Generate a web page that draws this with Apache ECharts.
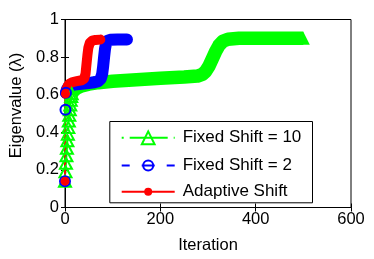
<!DOCTYPE html>
<html>
<head>
<meta charset="utf-8">
<script src="https://cdn.jsdelivr.net/npm/echarts@6/dist/echarts.min.js"></script>
<style>
html,body{margin:0;padding:0;background:#fff;}
#c{width:374px;height:259px;}
</style>
</head>
<body>
<div id="c"></div>
<script>
// ---- data ----
var xTicks = [0, 200, 400, 600];
var yTicks = [0, 0.2, 0.4, 0.6, 0.8, 1];
var seriesNames = ['Fixed Shift = 10', 'Fixed Shift = 2', 'Adaptive Shift'];

// Fixed Shift = 10 : first distinct iterations, then the dense (overlapping-marker) band
var fs10Start = [[0,0.14],[1,0.19],[2,0.235],[3,0.275],[4,0.315],[5,0.355],[6,0.39],[7,0.425],[8,0.46],[9,0.49],[10,0.52],[11,0.545],[12,0.57],[13,0.59],[14,0.605]];
var fs10Band = [[14,0.605],[17,0.617],[21,0.628],[26,0.637],[35,0.647],[50,0.656],[70,0.664],[100,0.672],[150,0.68],[200,0.688],[250,0.694],[278,0.699],[288,0.708],[295,0.724],[302,0.752],[309,0.79],[316,0.83],[323,0.862],[331,0.884],[342,0.895],[365,0.9],[420,0.9],[500,0.9]];

// Fixed Shift = 2
var fs2Start = [[0,0.14],[1,0.52],[2,0.61]];
var fs2Band = [[2,0.61],[4,0.628],[7,0.64],[12,0.648],[20,0.654],[35,0.658],[50,0.662],[62,0.666],[70,0.672],[75,0.685],[78,0.71],[80,0.75],[82,0.80],[84,0.845],[86,0.872],[89,0.886],[95,0.892],[110,0.894],[130,0.894]];

// Adaptive Shift
var adStart = [[0,0.14],[1,0.605]];
var adBand = [[1,0.605],[3,0.628],[6,0.648],[10,0.66],[16,0.667],[25,0.672],[35,0.677],[40,0.685],[43,0.71],[45,0.76],[47,0.81],[49,0.85],[52,0.875],[57,0.887],[64,0.891],[74,0.893]];

// ---- styles ----
var GREEN = '#00ff00', BLUE = '#0000ff', RED = '#ff0000';
var FONT = "'Liberation Sans', Arial, Helvetica, sans-serif";
var chart = echarts.init(document.getElementById('c'), null, {renderer: 'canvas'});

function axisCommon(showLabel) {
  return {
    axisLine: {show: true, lineStyle: {color: '#000', width: 1}},
    axisTick: {show: true, inside: true, length: 4, lineStyle: {color: '#000', width: 1}},
    splitLine: {show: false},
    axisLabel: {show: showLabel, color: '#000', fontSize: 16.5, fontFamily: FONT}
  };
}

var xMain = Object.assign(axisCommon(true), {
  type: 'value', min: xTicks[0], max: xTicks[xTicks.length-1], interval: xTicks[1]-xTicks[0], position: 'bottom',
  name: 'Iteration', nameLocation: 'middle', nameGap: 29.5,
  nameTextStyle: {color: '#000', fontSize: 16.5, fontFamily: FONT}
});
xMain.axisLabel.margin = 3.5;
var xTop = Object.assign(axisCommon(false), {
  type: 'value', min: xTicks[0], max: xTicks[xTicks.length-1], interval: xTicks[1]-xTicks[0], position: 'top'
});
var yMain = Object.assign(axisCommon(true), {
  type: 'value', min: yTicks[0], max: yTicks[yTicks.length-1], interval: yTicks[1]-yTicks[0], position: 'left',
  name: 'Eigenvalue (λ)', nameLocation: 'middle', nameGap: 40,
  nameTextStyle: {color: '#000', fontSize: 16.5, fontFamily: FONT, padding: [0, 0, 0, 16]}
});
yMain.axisLabel.margin = 6;
var yRight = Object.assign(axisCommon(false), {
  type: 'value', min: yTicks[0], max: yTicks[yTicks.length-1], interval: yTicks[1]-yTicks[0], position: 'right'
});

function band(name, data, color, width, cap) {
  return {
    name: name, type: 'line', data: data, xAxisIndex: 0, yAxisIndex: 0,
    showSymbol: false, symbol: 'none', smooth: false, silent: true, animation: false,
    lineStyle: {color: color, width: width, cap: cap, join: 'round'}
  };
}
function marks(name, data, color, symbol, size, filled, dash) {
  return {
    name: name, type: 'line', data: data, xAxisIndex: 0, yAxisIndex: 0,
    symbol: symbol, symbolSize: size, showSymbol: true, showAllSymbol: true, silent: true, animation: false,
    lineStyle: {color: color, width: 2, type: dash},
    itemStyle: {color: filled ? color : 'rgba(0,0,0,0)', borderColor: color, borderWidth: filled ? 0 : 2, opacity: 1}
  };
}

var series = [
  band('fs10band', fs10Band, GREEN, 13.5, 'butt'),
  {
    name: 'fs10end', type: 'line', data: [fs10Band[fs10Band.length-1]], symbol: 'triangle', symbolSize: [13, 13],
    showSymbol: true, silent: true, animation: false, lineStyle: {width: 0}, itemStyle: {color: GREEN}
  },
  marks(seriesNames[0], fs10Start, GREEN, 'triangle', [12, 11], false, [2, 6, 38, 6]),
  band('fs2band', fs2Band, BLUE, 12, 'round'),
  marks(seriesNames[1], fs2Start, BLUE, 'circle', 10, false, [8, 12, 13, 12]),
  band('adband', adBand, RED, 10, 'round'),
  marks(seriesNames[2], adStart, RED, 'circle', 9, true, 'solid')
];

var rowY = [137.3, 163.3, 188.3];
var legendDefs = [
  {name: seriesNames[0], h: 16, color: GREEN, dash: [2, 6, 38, 6], filled: false},
  {name: seriesNames[1], h: 12.5, color: BLUE, dash: [8, 12, 13, 12], filled: false},
  {name: seriesNames[2], h: 10, color: RED, dash: 'solid', filled: true}
];
var legends = legendDefs.map(function (d, i) {
  return {
    orient: 'vertical', left: 120.7, top: rowY[i] - d.h / 2, padding: 0,
    itemWidth: 53, itemHeight: d.h, selectedMode: false, z: 10,
    textStyle: {color: '#000', fontSize: 17, fontFamily: FONT, padding: [0, 0, 0, 3]},
    data: [{
      name: d.name,
      lineStyle: {color: d.color, width: 2, type: d.dash},
      itemStyle: {color: d.filled ? d.color : 'rgba(0,0,0,0)', borderColor: d.color, borderWidth: d.filled ? 0 : 2}
    }]
  };
});

chart.setOption({
  animation: false,
  backgroundColor: '#fff',
  textStyle: {fontFamily: FONT},
  grid: {left: 62.5, right: 23, top: 19.5, bottom: 48.7, show: true, borderColor: '#000', borderWidth: 1, backgroundColor: 'transparent'},
  xAxis: [xMain, xTop],
  yAxis: [yMain, yRight],
  legend: legends,
  graphic: [{
    type: 'rect', left: 109.3, top: 121, z: 9,
    shape: {width: 202.7, height: 81.3},
    style: {fill: '#fff', stroke: '#000', lineWidth: 1}
  }],
  series: series
});
</script>
</body>
</html>
